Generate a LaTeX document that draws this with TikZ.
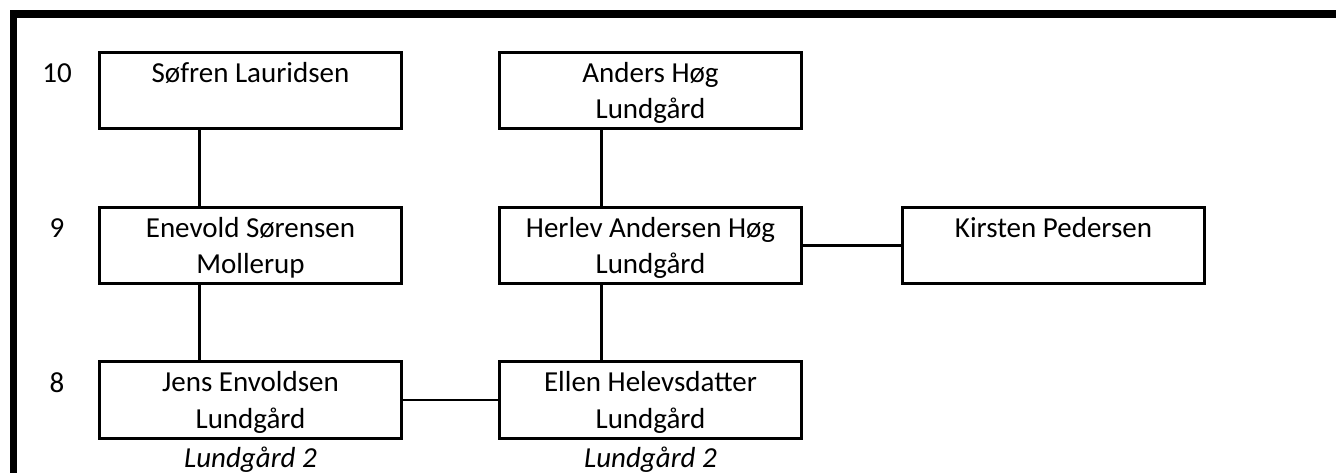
\documentclass[tikz,border=0pt]{standalone}
\usepackage{fontspec}
\setmainfont{Carlito}
\usetikzlibrary{positioning}
\tikzset{person/.style={draw, line width=1.7pt, minimum width=6.04cm,
  align=center, inner xsep=0pt, inner ysep=0pt, text height=38.1pt, text depth=5.7pt,
  font=\fontsize{16.5}{21}\selectfont}}
\tikzset{gen/.style={font=\fontsize{16.5}{21}\selectfont}}
\tikzset{farm/.style={font=\fontsize{16.5}{21}\selectfont\itshape, inner sep=0pt}}
\tikzset{link/.style={line width=1.7pt}}

\begin{document}
\begin{tikzpicture}[x=0.02cm,y=-0.02cm]
\useasboundingbox (0,0) rectangle (1336,473);
\draw[line width=4pt] (13.5,480) -- (13.5,14) -- (1340,14);
\node[gen] (g10) at (57,73) {10};
\node[gen] (g9) at (57,228) {9};
\node[gen] (g8) at (57,383) {8};
\node[person] (soefren) at (250.5,90.5) {Søfren Lauridsen\\};
\node[person] (anders) at (650.5,90.5) {Anders Høg\\Lundgård};
\node[person] (enevold) at (250.5,245.5) {Enevold Sørensen\\Mollerup};
\node[person] (herlev) at (650.5,245.5) {Herlev Andersen Høg\\Lundgård};
\node[person] (kirsten) at (1053.5,245.5) {Kirsten Pedersen\\};
\node[person] (jens) at (250.5,400) {Jens Envoldsen\\Lundgård};
\node[person] (ellen) at (650.5,400) {Ellen Helevsdatter\\Lundgård};
\node[farm, below=0.14cm of jens] (jensfarm) {Lundgård 2};
\node[farm, below=0.14cm of ellen] (ellenfarm) {Lundgård 2};
\draw[link] ([xshift=-1.02cm]soefren.south) -- ([xshift=-1.02cm]enevold.north);
\draw[link] ([xshift=-1.02cm]enevold.south) -- ([xshift=-1.02cm]jens.north);
\draw[link] ([xshift=-0.98cm]anders.south) -- ([xshift=-0.98cm]herlev.north);
\draw[link] ([xshift=-0.98cm]herlev.south) -- ([xshift=-0.98cm]ellen.north);
\draw[link] (herlev.east) -- (kirsten.west);
\draw[link] (jens.east) -- (ellen.west);
\end{tikzpicture}
\end{document}
